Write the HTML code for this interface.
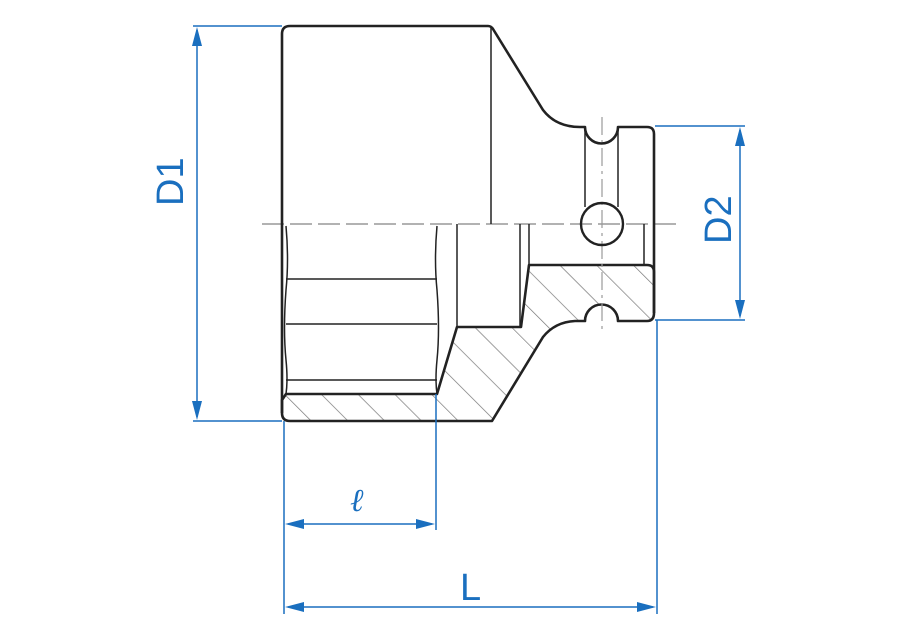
<!DOCTYPE html>
<html><head><meta charset="utf-8"><style>
html,body{margin:0;padding:0;background:#fff}
svg{display:block}
</style></head><body>
<svg width="900" height="640" viewBox="0 0 900 640" xmlns="http://www.w3.org/2000/svg">
<defs>
<pattern id="h" patternUnits="userSpaceOnUse" width="26" height="26" patternTransform="rotate(-45)">
<line x1="0" y1="0" x2="0" y2="26" stroke="#777" stroke-width="1.4"/>
</pattern>
</defs>
<!-- hatched section -->
<path d="M286,394 L437,394 L457,327 L521,327 L529,265 L647,265 Q654,265 654,272 L654,313 Q654,321 647,321 L618,321 A16.5,16.5 0 0 0 585,321 L575,321 Q555,322 543,337 L492,421 L290,421 Q282,421 282,413 L282,400 Z" fill="url(#h)" stroke="#222" stroke-width="2.6" stroke-linejoin="round"/>
<!-- centerlines -->
<line x1="262" y1="224" x2="682" y2="224" stroke="#999" stroke-width="1.4" stroke-dasharray="22,6"/>
<line x1="602" y1="117" x2="602" y2="330" stroke="#999" stroke-width="1.2" stroke-dasharray="18,5,3,5"/>
<!-- outer outline -->
<path d="M282,413 L282,34 Q282,26 290,26 L488,26 Q491,26 493,29 L543,110 Q556,127 580,127 L585,127 A16.5,16.5 0 0 0 618,127 L647,127 Q654,127 654,134 L654,313" fill="none" stroke="#222" stroke-width="2.6" stroke-linejoin="round"/>
<line x1="491" y1="27" x2="491" y2="224" stroke="#222" stroke-width="1.5"/>
<line x1="585" y1="127" x2="585" y2="207" stroke="#222" stroke-width="1.5"/>
<line x1="618" y1="127" x2="618" y2="207" stroke="#222" stroke-width="1.5"/>
<circle cx="602" cy="224" r="21" fill="none" stroke="#222" stroke-width="2.4"/>
<line x1="644" y1="224" x2="644" y2="265" stroke="#222" stroke-width="1.5"/>
<!-- inner hex lines -->
<path d="M286,226 Q289,260 286,290 Q283,330 286,360 Q288,380 286,394" fill="none" stroke="#222" stroke-width="1.5"/>
<path d="M437,226 Q434,260 437,290 Q440,330 437,360 Q435,380 437,394" fill="none" stroke="#222" stroke-width="1.5"/>
<line x1="457" y1="224" x2="457" y2="327" stroke="#222" stroke-width="1.5"/>
<line x1="520" y1="224" x2="520" y2="327" stroke="#222" stroke-width="1.5"/>
<line x1="529" y1="224" x2="529" y2="265" stroke="#222" stroke-width="1.5"/>
<line x1="286" y1="279" x2="437" y2="279" stroke="#222" stroke-width="1.5"/>
<line x1="286" y1="324" x2="437" y2="324" stroke="#222" stroke-width="1.5"/>
<line x1="286" y1="380" x2="437" y2="380" stroke="#222" stroke-width="1.5"/>
<!-- dimensions -->
<g stroke="#1a6fbf" stroke-width="1.5" fill="none">
<line x1="193" y1="26" x2="282" y2="26"/>
<line x1="193" y1="421" x2="282" y2="421"/>
<line x1="197" y1="30" x2="197" y2="417"/>
<line x1="655" y1="126" x2="745" y2="126"/>
<line x1="655" y1="320" x2="745" y2="320"/>
<line x1="740" y1="130" x2="740" y2="316"/>
<line x1="284" y1="421" x2="284" y2="614"/>
<line x1="657" y1="320" x2="657" y2="614"/>
<line x1="436" y1="394" x2="436" y2="530"/>
<line x1="288" y1="524" x2="432" y2="524"/>
<line x1="288" y1="607" x2="653" y2="607"/>
</g>
<g fill="#1a6fbf">
<polygon points="197,27 192,46 202,46"/>
<polygon points="197,420 192,401 202,401"/>
<polygon points="740,127 735,146 745,146"/>
<polygon points="740,319 735,300 745,300"/>
<polygon points="285,524 304,519 304,529"/>
<polygon points="435,524 416,519 416,529"/>
<polygon points="285,607 304,602 304,612"/>
<polygon points="656,607 637,602 637,612"/>
</g>
<g fill="#1a6fbf" font-family="Liberation Sans, sans-serif" font-size="38">
<text x="0" y="0" transform="translate(183,206) rotate(-90)">D1</text>
<text x="0" y="0" transform="translate(731,244) rotate(-90)">D2</text>
<text x="460" y="600">L</text>
<text x="350" y="511" font-family="Liberation Serif, serif" font-style="italic" font-size="32">ℓ</text>
</g>
</svg>
</body></html>
